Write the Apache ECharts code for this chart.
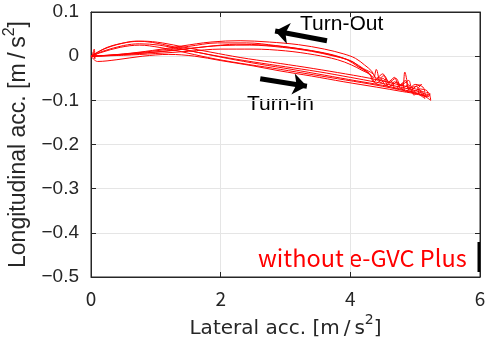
<!doctype html>
<html lang="en">
<head>
  <meta charset="UTF-8">
  <title>g-g diagram</title>
  <script src="https://cdn.jsdelivr.net/npm/echarts@6/dist/echarts.min.js"></script>
  <style>
    * { margin: 0; padding: 0; box-sizing: border-box; }
    html, body { width: 485px; height: 351px; background: #fff; }
    #chart { width: 485px; height: 351px; }
  </style>
</head>
<body>
<div id="chart"></div>
<script>
  // axis ticks
  const xTicks = [0, 2, 4, 6]
  const yTicks = ['−0.5', '−0.4', '−0.3', '−0.2', '−0.1', '0', '0.1']

  // laps: [lateral, longitudinal]
  const lap1 = [[0,0],[0.2,0.016],[0.45,0.028],[0.7,0.034],[0.95,0.031],[1.25,0.022],[1.6,0.01],[2.0,-0.001],[2.5,-0.013],[3.0,-0.024],[3.5,-0.035],[4.0,-0.048],[4.4,-0.059],[4.8,-0.071],[5.05,-0.08],[5.2,-0.09],[5.18,-0.078],[5.05,-0.072],[5.1,-0.064],[4.95,-0.07],[4.9,-0.055],[4.78,-0.066],[4.7,-0.05],[4.6,-0.06],[4.52,-0.044],[4.42,-0.054],[4.35,-0.04],[4.2,-0.028],[4.05,-0.014],[3.85,-0.003],[3.55,0.008],[3.15,0.018],[2.7,0.025],[2.25,0.027],[1.8,0.022],[1.4,0.015],[1.0,0.009],[0.6,0.005],[0.25,0.002],[0,0]]
  const lap2 = [[0,0],[0.2,0.012],[0.5,0.024],[0.75,0.028],[1.05,0.025],[1.35,0.017],[1.7,0.007],[2.1,-0.005],[2.6,-0.018],[3.1,-0.03],[3.6,-0.043],[4.1,-0.056],[4.5,-0.066],[4.85,-0.077],[5.1,-0.087],[5.24,-0.1],[5.2,-0.082],[5.08,-0.088],[5.02,-0.068],[4.92,-0.08],[4.88,-0.06],[4.84,-0.036],[4.8,-0.068],[4.68,-0.058],[4.6,-0.07],[4.5,-0.05],[4.4,-0.062],[4.32,-0.045],[4.25,-0.035],[4.12,-0.024],[3.95,-0.008],[3.7,0.004],[3.3,0.015],[2.85,0.024],[2.4,0.03],[1.95,0.03],[1.5,0.022],[1.05,0.013],[0.6,0.006],[0.2,0.001],[0,0]]
  const lap3 = [[0,0],[0.1,-0.012],[0.4,-0.008],[0.8,0.0],[1.2,0.004],[1.6,0.0],[2.0,-0.01],[2.5,-0.022],[2.9,-0.033],[3.4,-0.045],[3.9,-0.058],[4.4,-0.07],[4.8,-0.08],[5.05,-0.087],[5.15,-0.096],[5.1,-0.08],[4.98,-0.088],[4.95,-0.07],[4.85,-0.08],[4.8,-0.062],[4.7,-0.074],[4.62,-0.055],[4.55,-0.067],[4.45,-0.048],[4.36,-0.058],[4.3,-0.042],[4.18,-0.032],[4.02,-0.02],[3.8,-0.008],[3.45,0.003],[3.0,0.012],[2.5,0.016],[2.0,0.016],[1.5,0.011],[1.0,0.006],[0.5,0.002],[0,0]]
  const lap4 = [[0,0],[0.25,0.02],[0.55,0.031],[0.8,0.034],[1.1,0.03],[1.45,0.02],[1.85,0.009],[2.3,-0.003],[2.8,-0.014],[3.3,-0.025],[3.8,-0.037],[4.3,-0.05],[4.7,-0.063],[5.0,-0.074],[5.15,-0.082],[5.12,-0.07],[5.0,-0.064],[4.9,-0.075],[4.85,-0.055],[4.75,-0.068],[4.68,-0.048],[4.58,-0.06],[4.5,-0.04],[4.4,-0.05],[4.33,-0.034],[4.22,-0.02],[4.08,-0.005],[3.9,0.005],[3.6,0.016],[3.2,0.026],[2.75,0.032],[2.3,0.035],[1.85,0.032],[1.4,0.023],[0.95,0.013],[0.5,0.005],[0.15,0.001],[0,0]]
  const lap5 = [[0,0],[0.15,0.008],[0.45,0.02],[0.75,0.025],[1.05,0.02],[1.4,0.01],[1.8,-0.003],[2.3,-0.016],[2.8,-0.027],[3.3,-0.039],[3.8,-0.051],[4.3,-0.063],[4.7,-0.074],[5.0,-0.084],[5.2,-0.092],[5.23,-0.085],[5.12,-0.09],[5.06,-0.075],[4.96,-0.082],[4.9,-0.065],[4.78,-0.074],[4.72,-0.058],[4.63,-0.067],[4.55,-0.052],[4.47,-0.06],[4.4,-0.03],[4.36,-0.048],[4.27,-0.036],[4.15,-0.025],[4.0,-0.01],[3.75,0.0],[3.4,0.011],[2.95,0.02],[2.45,0.025],[2.0,0.024],[1.55,0.018],[1.1,0.011],[0.65,0.005],[0.25,0.001],[0,0]]
  const originJitter = [[0.02,0],[0.05,0.016],[0.06,-0.006],[0.03,0.008],[0.09,0.002],[0.04,-0.004]]
  const laps = [lap1, lap2, lap3, lap4, lap5, originJitter]

  // arrows: [tail, head]
  const turnOutArrow = [[3.64, 0.035], [2.84, 0.057]]
  const turnInArrow = [[2.61, -0.051], [3.33, -0.068]]

  const red = '#ff0000'
  const ink = '#262626'

  const chart = echarts.init(document.getElementById('chart'))

  const series = laps.map(d => ({
    type: 'line',
    data: d,
    smooth: 0.35,
    showSymbol: false,
    silent: true,
    lineStyle: { color: red, width: 1 }
  }))

  series.push({
    type: 'line',
    data: [],
    markLine: {
      silent: true,
      symbol: ['none', 'arrow'],
      symbolSize: [16, 14],
      label: { show: false },
      lineStyle: { color: '#000', width: 5, type: 'solid' },
      data: [
        [{ coord: turnOutArrow[0] }, { coord: turnOutArrow[1] }],
        [{ coord: turnInArrow[0] }, { coord: turnInArrow[1] }]
      ]
    }
  })

  const sideAxis = {
    axisLine: { show: true, onZero: false, lineStyle: { color: ink, width: 1 } },
    axisTick: { show: true, inside: true, length: 5, lineStyle: { color: ink } },
    axisLabel: { show: false },
    splitLine: { show: false }
  }

  const axisTitle = (text, font) => ({
    formatter: '{a|' + text + '}{s|2}{a|]}',
    rich: {
      a: { fontFamily: font.family, fontSize: font.size, color: ink, lineHeight: font.size + 6, verticalAlign: 'bottom' },
      s: { fontFamily: font.family, fontSize: Math.round(font.size * 0.68), color: ink, lineHeight: font.size + 6, verticalAlign: 'top' }
    }
  })

  const xTitle = axisTitle('Lateral acc. [m\u2009/\u2009s', { family: 'DejaVu Sans', size: 20 })
  const yTitle = axisTitle('Longitudinal acc. [m\u2009/\u2009s', { family: 'Liberation Sans', size: 23 })

  option = {
    animation: false,
    grid: {
      left: 91, right: 5, top: 12, bottom: 74, outerBoundsMode: 'none', containLabel: false,
      show: true, borderColor: ink, borderWidth: 1, backgroundColor: 'transparent'
    },
    xAxis: [{
      type: 'value', min: 0, max: 6, interval: 2,
      name: xTitle.formatter,
      nameLocation: 'middle', nameGap: 34,
      nameTextStyle: { rich: xTitle.rich },
      axisLine: { show: true, onZero: false, lineStyle: { color: ink, width: 1 } },
      axisTick: { inside: true, length: 5, lineStyle: { color: ink } },
      axisLabel: {
        margin: 12, fontFamily: 'Noto Sans CJK JP', fontSize: 19, color: ink,
        formatter: v => String(xTicks[xTicks.indexOf(v)])
      },
      splitLine: { show: true, lineStyle: { color: '#e5e5e5', width: 1 } }
    }, Object.assign({ type: 'value', min: 0, max: 6, interval: 2, position: 'top' }, sideAxis)],
    yAxis: [{
      type: 'value', min: -0.5, max: 0.1, interval: 0.1,
      name: yTitle.formatter,
      nameLocation: 'middle', nameGap: 52,
      nameTextStyle: { rich: yTitle.rich },
      axisLine: { show: true, onZero: false, lineStyle: { color: ink, width: 1 } },
      axisTick: { inside: true, length: 5, lineStyle: { color: ink } },
      axisLabel: {
        margin: 12, fontFamily: 'Liberation Sans', fontSize: 19, color: ink,
        formatter: v => yTicks[Math.round((v + 0.5) * 10)]
      },
      splitLine: { show: true, lineStyle: { color: '#e5e5e5', width: 1 } }
    }, Object.assign({ type: 'value', min: -0.5, max: 0.1, interval: 0.1, position: 'right' }, sideAxis)],
    graphic: [
      { type: 'text', x: 300, y: 24, style: { text: 'Turn-Out', font: '21px "Liberation Sans"', fill: '#000', verticalAlign: 'middle' } },
      { type: 'text', x: 247, y: 104, style: { text: 'Turn-In', font: '21px "Liberation Sans"', fill: '#000', verticalAlign: 'middle' } },
      { type: 'text', x: 258, y: 258, style: { text: 'without e-GVC Plus', font: '23.5px "Noto Sans CJK JP"', fill: red, verticalAlign: 'middle' } },
      { type: 'rect', x: 477.5, y: 242, shape: { width: 2.5, height: 30 }, style: { fill: '#000' } }
    ],
    series: series
  };
  chart.setOption(option);
</script>
</body>
</html>
